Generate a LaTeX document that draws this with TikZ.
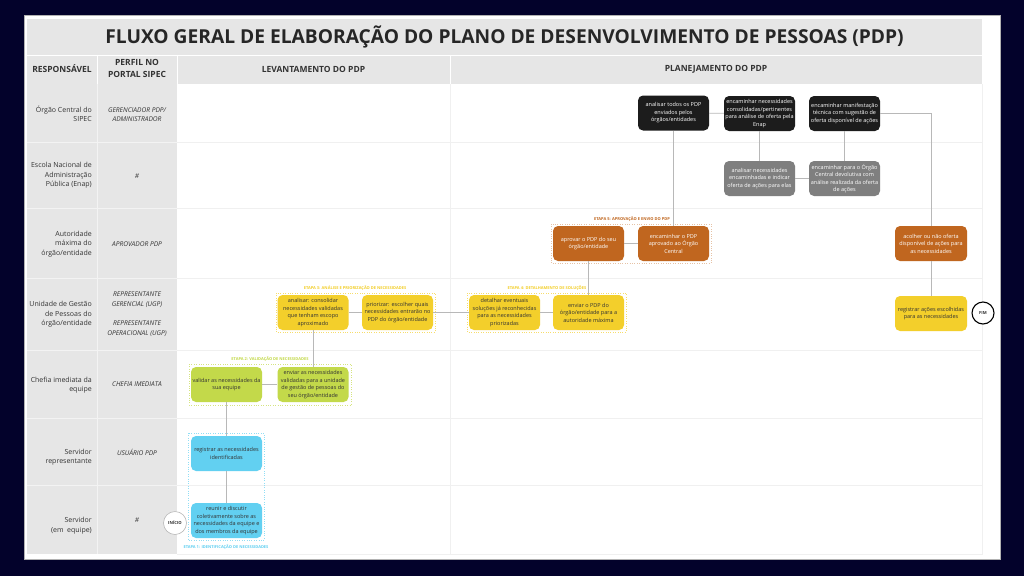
\documentclass[tikz,border=0pt]{standalone}
\usepackage{fontspec}
\setmainfont{Open Sans}
\definecolor{navy}{HTML}{03022B}
\definecolor{hdr}{HTML}{E6E6E6}
\definecolor{rowline}{HTML}{F0F0F0}
\definecolor{blk}{HTML}{1C1C1C}
\definecolor{gry}{HTML}{7F7F7F}
\definecolor{org}{HTML}{C0661F}
\definecolor{ylw}{HTML}{F3CF2B}
\definecolor{grn}{HTML}{C3D94A}
\definecolor{blu}{HTML}{62D0F1}
\definecolor{conn}{HTML}{B8B8B8}
\definecolor{txt}{HTML}{333333}
\tikzset{
 proc/.style={rounded corners=5pt, minimum width=71pt, minimum height=35pt, inner sep=0pt, align=center, font=\fontsize{5.5}{7.5}\selectfont},
 pblack/.style={proc, fill=blk, text=white},
 pgray/.style={proc, fill=gry, text=white},
 porange/.style={proc, fill=org, text=white},
 pyellow/.style={proc, fill=ylw, text=txt},
 pgreen/.style={proc, fill=grn, text=txt},
 pblue/.style={proc, fill=blu, text=txt},
 link/.style={draw=conn, line width=0.9pt},
 grp/.style={dotted, line width=0.4pt},
 etapa/.style={font=\fontsize{4}{4.5}\selectfont\bfseries, inner sep=0pt},
 rowlab/.style={align=right, anchor=east, font=\fontsize{7}{9.5}\selectfont, text=txt, inner sep=0pt},
 perfil/.style={align=center, font=\fontsize{6.6}{9.6}\selectfont\itshape, text=txt, inner sep=0pt},
 head/.style={align=center, font=\fontsize{8.5}{12}\selectfont\bfseries, text=txt, inner sep=0pt},
 term/.style={circle, minimum size=23pt, inner sep=0pt, fill=white, font=\fontsize{4.2}{5}\selectfont\bfseries, text=txt},
}
\begin{document}
\begin{tikzpicture}[x=1pt,y=-1pt]
\useasboundingbox (0,0) rectangle (1024,576);
\fill[navy] (0,0) rectangle (1024,576);
\filldraw[fill=white, draw=gray!60, line width=0.6pt] (24,15) rectangle (1000,559);
% bands
\fill[hdr] (27,19) rectangle (982,84);
\fill[hdr] (27,84) rectangle (177,554);
\fill[white] (177,84) rectangle (982,554);
\draw[white, line width=0.8pt] (27,55) -- (982,55);
\foreach \x in {97,177,450} \draw[white, line width=0.8pt] (\x,55) -- (\x,84);
\draw[white!50!hdr, line width=0.6pt] (97,84) -- (97,554);
\foreach \y in {142,208,278,350,418,485} {
  \draw[white!50!hdr, line width=0.6pt] (27,\y) -- (177,\y);
  \draw[rowline, line width=0.8pt] (177,\y) -- (982,\y);
}
\draw[rowline, line width=0.8pt] (450,84) -- (450,554);
\draw[rowline, line width=0.6pt] (177,554) -- (982,554) -- (982,84);
% title and headers
\node[font=\fontsize{19.2}{23}\selectfont\bfseries, text=black!85, inner sep=0pt] (title) at (504.5,37) {FLUXO GERAL DE ELABORAÇÃO DO PLANO DE DESENVOLVIMENTO DE PESSOAS (PDP)};
\node[head] (hresp) at (62,69) {RESPONSÁVEL};
\node[head] (hperf) at (137,68.5) {PERFIL NO\\PORTAL SIPEC};
\node[head] (hlev) at (313.5,69) {LEVANTAMENTO DO PDP};
\node[head] (hplan) at (716,69) {PLANEJAMENTO DO PDP};
% row labels
\node[rowlab] (r1) at (92,114) {Órgão Central do\\SIPEC};
\node[rowlab] (r2) at (92,175.5) {Escola Nacional de\\Administração\\Pública (Enap)};
\node[rowlab] (r3) at (92,244) {Autoridade\\máxima do\\órgão/entidade};
\node[rowlab] (r4) at (92,314.5) {Unidade de Gestão\\de Pessoas do\\órgão/entidade};
\node[rowlab] (r5) at (92,385) {Chefia imediata da\\equipe};
\node[rowlab] (r6) at (92,457) {Servidor\\representante};
\node[rowlab] (r7) at (92,525.5) {Servidor\\(em\ \ equipe)};
% perfil
\node[perfil] (p1) at (137,114.5) {GERENCIADOR PDP/\\ADMINISTRADOR};
\node[perfil] (p2) at (137,176) {\#};
\node[perfil] (p3) at (137,244) {APROVADOR PDP};
\node[perfil] (p4) at (137,314) {REPRESENTANTE\\GERENCIAL (UGP)\\[9.6pt]REPRESENTANTE\\OPERACIONAL (UGP)};
\node[perfil] (p5) at (137,384.5) {CHEFIA IMEDIATA};
\node[perfil] (p6) at (137,452.5) {USUÁRIO PDP};
\node[perfil] (p7) at (137,520) {\#};
% stage groups
\draw[grp, draw=blu!70] (188,433) rectangle (264,540);
\node[etapa, text=blu] (e1) at (226,547) {ETAPA 1: IDENTIFICAÇÃO DE NECESSIDADES};
\draw[grp, draw=grn!70] (189,364) rectangle (351,405);
\node[etapa, text=grn] (e2) at (270,359.5) {ETAPA 2: VALIDAÇÃO DE NECESSIDADES};
\draw[grp, draw=ylw!70] (276,293) rectangle (435,332);
\node[etapa, text=ylw] (e3) at (355,288) {ETAPA 3: ANÁLISE E PRIORIZAÇÃO DE NECESSIDADES};
\draw[grp, draw=ylw!70] (467,293) rectangle (626,332);
\node[etapa, text=ylw] (e4) at (547,288) {ETAPA 4: DETALHAMENTO DE SOLUÇÕES};
\draw[grp, draw=org!40] (551,224) rectangle (711,263);
\node[etapa, text=org] (e5) at (632,219) {ETAPA 5: APROVAÇÃO E ENVIO DO PDP};
% process nodes
\node[pblack] (n1) at (673.5,113) {analisar todos os PDP\\enviados pelos\\órgãos/entidades};
\node[pblack] (n2) at (759.5,113.5) {encaminhar necessidades\\consolidadas/pertinentes\\para análise de oferta pela\\Enap};
\node[pblack] (n3) at (844.5,113.5) {encaminhar manifestação\\técnica com sugestão de\\oferta disponível de ações};
\node[pgray] (g1) at (759.5,178.5) {analisar necessidades\\encaminhadas e indicar\\oferta de ações para elas};
\node[pgray] (g2) at (844.5,178.5) {encaminhar para o Órgão\\Central devolutiva com\\análise realizada da oferta\\de ações};
\node[porange] (o1) at (588.5,243.5) {aprovar o PDP do seu\\órgão/entidade};
\node[porange] (o2) at (673.5,243.5) {encaminhar o PDP\\aprovado ao Órgão\\Central};
\node[porange, minimum width=72pt] (o3) at (931,243.5) {acolher ou não oferta\\disponível de ações para\\as necessidades};
\node[pyellow] (y1) at (313,312.5) {analisar: consolidar\\necessidades validadas\\que tenham escopo\\aproximado};
\node[pyellow] (y2) at (397.5,312.5) {priorizar: escolher quais\\necessidades entrarão no\\PDP do órgão/entidade};
\node[pyellow] (y3) at (504.5,312.5) {detalhar eventuais\\soluções já reconhecidas\\para as necessidades\\priorizadas};
\node[pyellow] (y4) at (588.5,312.5) {enviar o PDP do\\órgão/entidade para a\\autoridade máxima};
\node[pyellow, minimum width=72pt] (y5) at (931,313.5) {registrar ações escolhidas\\para as necessidades};
\node[pgreen] (v1) at (226.5,384.5) {validar as necessidades da\\sua equipe};
\node[pgreen] (v2) at (313,384.5) {enviar as necessidades\\validadas para a unidade\\de gestão de pessoas do\\seu órgão/entidade};
\node[pblue] (b1) at (226.5,453.5) {registrar as necessidades\\identificadas};
\node[pblue] (b2) at (226.5,520.5) {reunir e discutir\\coletivamente sobre as\\necessidades da equipe e\\dos membros da equipe};
\node[term, draw=conn, line width=0.6pt] (ini) at (175,523) {INÍCIO};
\node[term, draw=black, line width=1.1pt, minimum size=22pt] (fim) at (983,313) {FIM};
% connectors
\draw[link] (b2) -- (b1);
\draw[link] (b1) -- (v1);
\draw[link] (v1) -- (v2);
\draw[link] (v2) -- (y1);
\draw[link] (y1) -- (y2);
\draw[link] (y2) -- (y3);
\draw[link] (y3) -- (y4);
\draw[link] (y4) -- (o1);
\draw[link] (o1) -- (o2);
\draw[link] (o2) -- (n1);
\draw[link] (n1) -- (n2);
\draw[link] (n2) -- (g1);
\draw[link] (g1) -- (g2);
\draw[link] (g2) -- (n3);
\draw[link] (n3.east) -| (o3.north);
\draw[link] (o3) -- (y5);
\end{tikzpicture}
\end{document}
